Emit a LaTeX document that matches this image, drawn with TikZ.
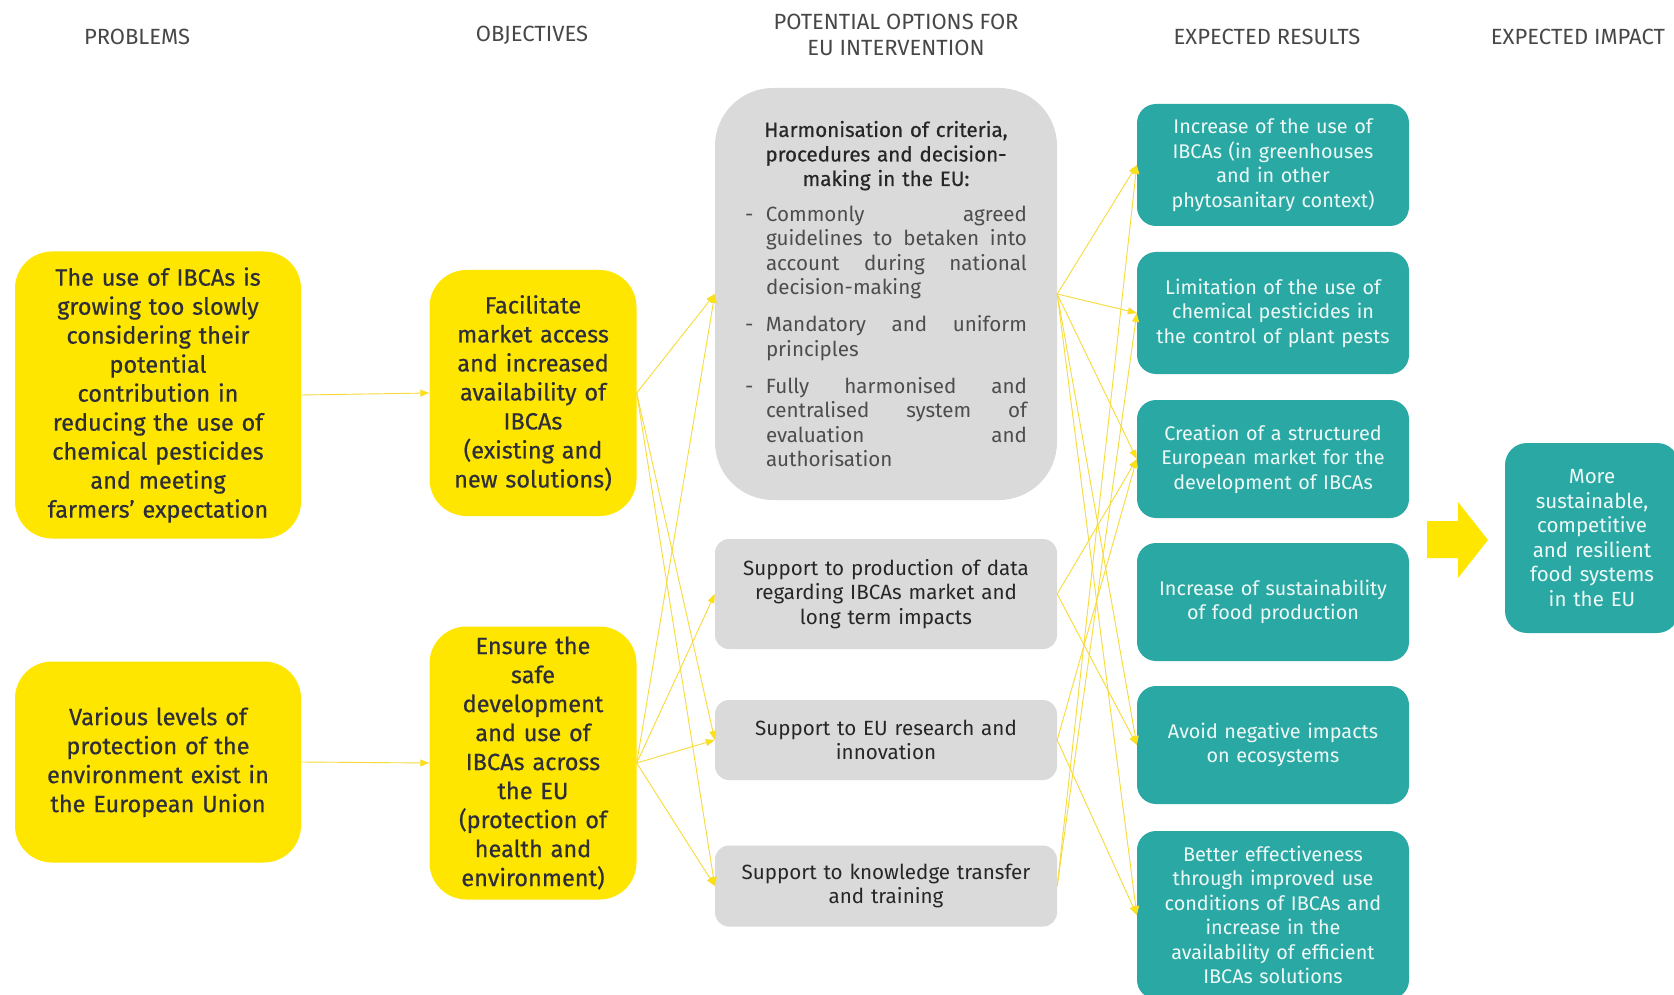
\documentclass[tikz,border=0pt]{standalone}
\usepackage{fontspec}
\setmainfont{Fira Sans}
\newfontfamily\medfont{Fira Sans}[FakeBold=0.6]
\usepackage{xcolor}
\usepackage{tikz}
\usetikzlibrary{arrows.meta}

\definecolor{eyyellow}{HTML}{FFE600}
\definecolor{eyteal}{HTML}{2AA9A4}
\definecolor{optgray}{HTML}{DADADA}
\definecolor{darkink}{HTML}{2E2E38}
\definecolor{titleink}{HTML}{262626}
\definecolor{bulletink}{HTML}{4D4D4D}
\definecolor{headink}{HTML}{474747}
\definecolor{tealink}{HTML}{EEF8F7}
\definecolor{linkyellow}{HTML}{F6DB3A}

% justified line inside a bullet
\newcommand{\jl}[1]{\leavevmode\hbox to 261pt{#1}}
\newcommand{\optitem}[2][15.5pt]{\par\vspace{#1}\noindent\makebox[21pt][l]{-}\parbox[t]{261pt}{#2}}

\begin{document}
\begin{tikzpicture}[x=1pt,y=-1pt,
  head/.style={text=headink,align=center,font=\fontsize{22}{26}\selectfont},
  probbox/.style={fill=eyyellow,rounded corners=37pt,text=darkink,align=center,
    inner sep=0pt,minimum width=286pt,text width=270pt,font=\fontsize{23.5}{29}\medfont},
  objbox/.style={probbox,minimum width=207pt,text width=200pt},
  optbox/.style={fill=optgray,rounded corners=14pt,text=titleink,align=center,
    inner sep=0pt,minimum width=342pt,text width=330pt,font=\fontsize{20.6}{24.5}\selectfont},
  resbox/.style={fill=eyteal,rounded corners=19pt,text=tealink,align=center,
    inner sep=0pt,minimum width=272pt,text width=266pt,font=\fontsize{19.8}{24.5}\selectfont},
  link/.style={draw=linkyellow,line width=0.9pt,-{Triangle[length=9pt,width=7pt,fill=eyyellow]}}]
\useasboundingbox[fill=white] (0,0) rectangle (1674,995);

% Column headers
\node[head] (hprob) at (137,37) {PROBLEMS};
\node[head] (hobj) at (532,35) {OBJECTIVES};
\node[head] (hopt) at (896,35) {POTENTIAL OPTIONS FOR\\EU INTERVENTION};
\node[head] (hres) at (1267,37) {EXPECTED RESULTS};
\node[head] (himp) at (1578,37) {EXPECTED IMPACT};

% Problems
\node[probbox,minimum height=287pt] (p1) at (158,395)
  {The use of IBCAs is\\growing too slowly\\considering their\\potential\\contribution in\\reducing the use of\\chemical pesticides\\and meeting\\farmers’ expectation};
\node[probbox,minimum height=201pt] (p2) at (158,762)
  {Various levels of\\protection of the\\environment exist in\\the European Union};

% Objectives
\node[objbox,minimum height=246pt] (o1) at (533,393)
  {Facilitate\\market access\\and increased\\availability of\\IBCAs\\(existing and\\new solutions)};
\node[objbox,minimum height=273pt] (o2) at (533,763)
  {Ensure the\\safe\\development\\and use of\\IBCAs across\\the EU\\(protection of\\health and\\environment)};

% Options for intervention
\node[fill=optgray,rounded corners=58pt,inner sep=0pt,minimum width=342pt,minimum height=412pt,
  text width=282pt,font=\fontsize{20.6}{24.5}\selectfont] (harm) at (886,294) {%
  {\centering\medfont\color{titleink}Harmonisation of criteria,\\procedures and decision-\\making in the EU:\par}
  \color{bulletink}%
  \optitem[11pt]{\jl{Commonly\hfill agreed}\\\jl{guidelines\hfill to\hfill betaken\hfill into}\\\jl{account\hfill during\hfill national}\\decision-making}
  \optitem{\jl{Mandatory\hfill and\hfill uniform}\\principles}
  \optitem{\jl{Fully\hfill harmonised\hfill and}\\\jl{centralised\hfill system\hfill of}\\\jl{evaluation\hfill and}\\authorisation}};
\node[optbox,minimum height=110pt] (data) at (886,594)
  {Support to production of data\\regarding IBCAs market and\\long term impacts};
\node[optbox,minimum height=80pt] (research) at (886,740)
  {Support to EU research and\\innovation};
\node[optbox,minimum height=81pt] (knowledge) at (886,886)
  {Support to knowledge transfer\\and training};

% Expected results
\node[resbox,minimum height=122pt] (r1) at (1273,165)
  {Increase of the use of\\IBCAs (in greenhouses\\and in other\\phytosanitary context)};
\node[resbox,minimum height=122pt] (r2) at (1273,313)
  {Limitation of the use of\\chemical pesticides in\\the control of plant pests};
\node[resbox,minimum height=118pt] (r3) at (1273,459)
  {Creation of a structured\\European market for the\\development of IBCAs};
\node[resbox,minimum height=118pt] (r4) at (1273,602)
  {Increase of sustainability\\of food production};
\node[resbox,minimum height=118pt] (r5) at (1273,745)
  {Avoid negative impacts\\on ecosystems};
\node[resbox,minimum height=168pt] (r6) at (1273,915)
  {Better effectiveness\\through improved use\\conditions of IBCAs and\\increase in the\\availability of efficient\\IBCAs solutions};

% Expected impact
\node[resbox,rounded corners=22pt,minimum width=174pt,text width=168pt,minimum height=190pt,
  font=\fontsize{20.5}{24.5}\selectfont] (impact) at (1592,538)
  {More\\sustainable,\\competitive\\and resilient\\food systems\\in the EU};

% Big arrow to impact
\fill[eyyellow] (1427,521) -- (1458,521) -- (1458,502) -- (1488,540) -- (1458,578) -- (1458,558) -- (1427,558) -- cycle;

% Problems to objectives
\draw[link] (p1.east) -- (o1.west);
\draw[link] (p2.east) -- (o2.west);

% Objectives to options
\draw[link] (o1.east) -- (harm.west);
\draw[link] (o1.east) -- (research.west);
\draw[link] (o1.east) -- (knowledge.west);
\draw[link] (o2.east) -- (harm.west);
\draw[link] (o2.east) -- (data.west);
\draw[link] (o2.east) -- (research.west);
\draw[link] (o2.east) -- (knowledge.west);

% Options to results
\draw[link] (harm.east) -- (r1.west);
\draw[link] (harm.east) -- (r2.west);
\draw[link] (harm.east) -- (r3.west);
\draw[link] (harm.east) -- (r5.west);
\draw[link] (harm.east) -- (r6.west);
\draw[link] (data.east) -- (r3.west);
\draw[link] (data.east) -- (r5.west);
\draw[link] (research.east) -- (r3.west);
\draw[link] (research.east) -- (r6.west);
\draw[link] (knowledge.east) -- (r1.west);
\draw[link] (knowledge.east) -- (r2.west);
\end{tikzpicture}
\end{document}
